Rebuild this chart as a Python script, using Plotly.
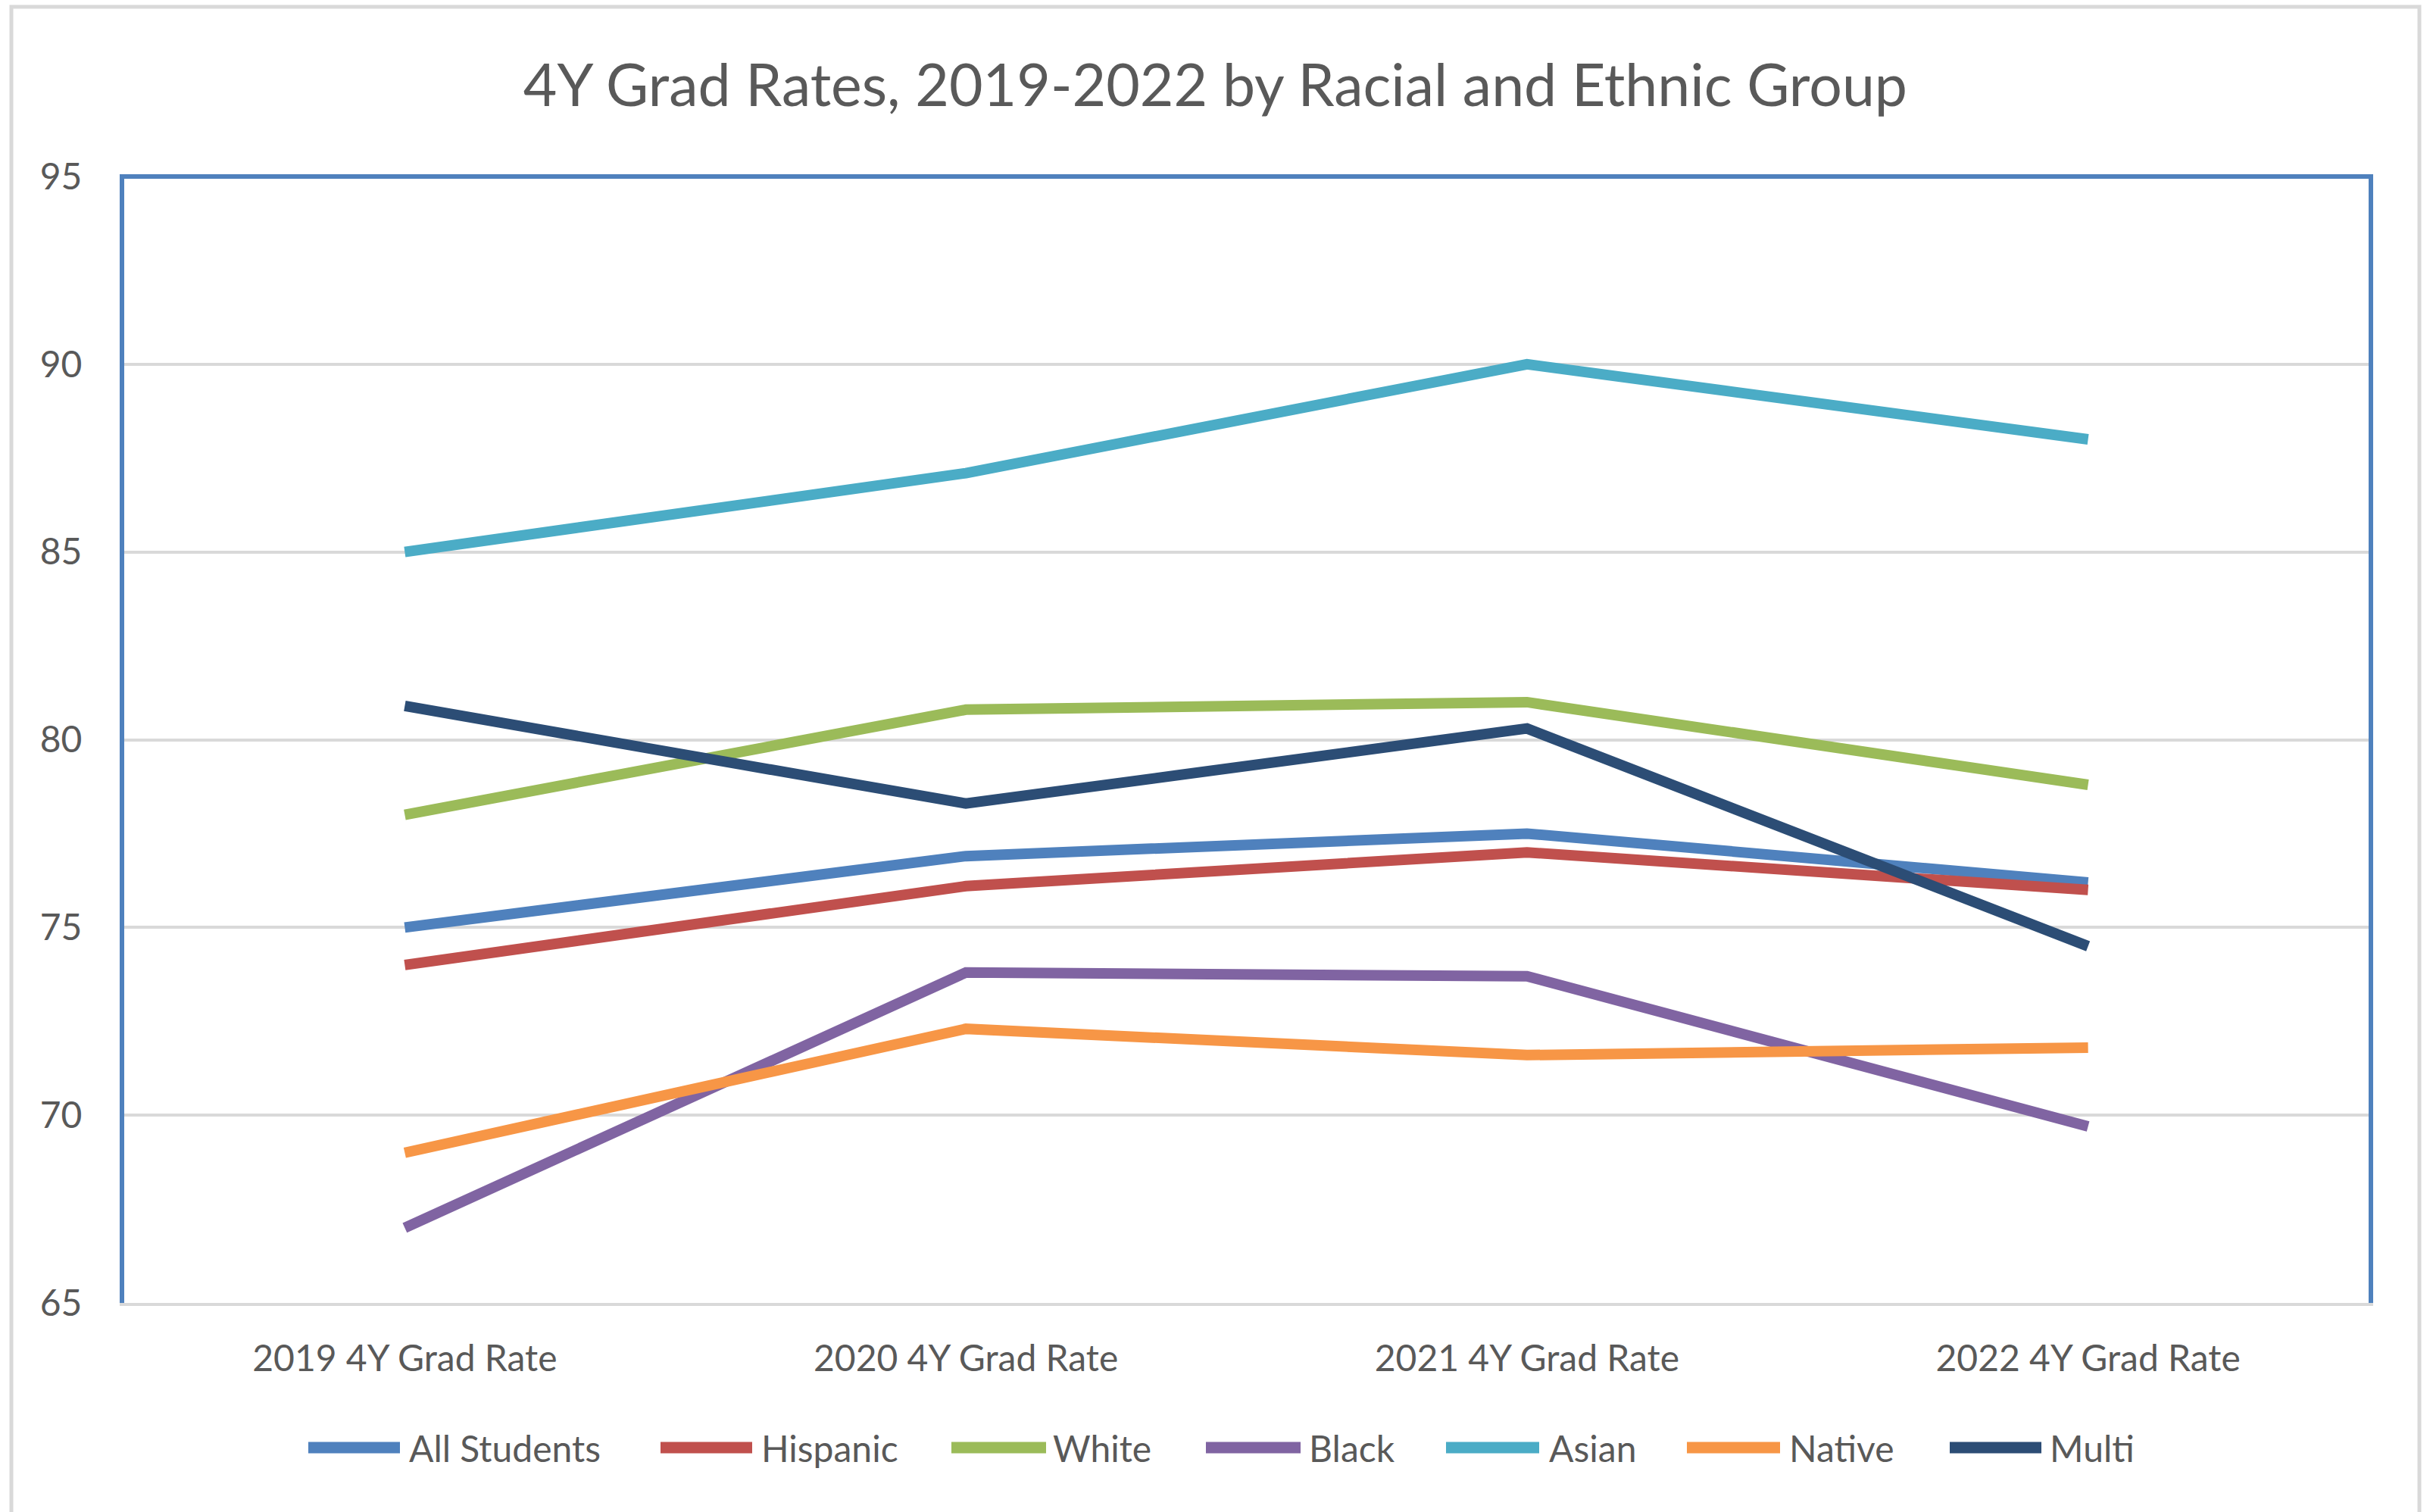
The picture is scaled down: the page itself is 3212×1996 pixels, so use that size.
import plotly.graph_objects as go

# ---------------- data ----------------
categories = ["2019 4Y Grad Rate", "2020 4Y Grad Rate", "2021 4Y Grad Rate", "2022 4Y Grad Rate"]
all_students = [75.0, 76.9, 77.5, 76.2]
hispanic = [74.0, 76.1, 77.0, 76.0]
white = [78.0, 80.8, 81.0, 78.8]
black = [67.0, 73.8, 73.7, 69.7]
asian = [85.0, 87.1, 90.0, 88.0]
native = [69.0, 72.3, 71.6, 71.8]
multi = [80.9, 78.3, 80.3, 74.5]
series_names = ["All Students", "Hispanic", "White", "Black", "Asian", "Native", "Multi"]
series_values = [all_students, hispanic, white, black, asian, native, multi]
y_ticks = [65, 70, 75, 80, 85, 90, 95]

# ---------------- style ----------------
colors = ["#4F81BD", "#C0504D", "#9BBB59", "#8064A2", "#4BACC6", "#F79646", "#2C4D75"]
W, H = 3212, 1996
L, R, T, B = 164, 85, 233, 276
PW, PH = W - L - R, H - T - B
FONT = "Lato"
TXT = "#595959"


def px_x(px):
    return (px - L) / PW


def px_y(py):
    return (H - B - py) / PH


fig = go.Figure()
for name, vals, col in zip(series_names, series_values, colors):
    fig.add_trace(go.Scatter(
        x=categories, y=vals, name=name, mode="lines",
        line=dict(color=col, width=14), showlegend=False,
    ))

# custom legend (long line samples like the original)
legend_line_px = [(403, 532), (868, 997), (1252, 1385), (1588, 1721),
                  (1905, 2036), (2223, 2354), (2570, 2699)]
legend_text_px = [538, 1003, 1388, 1726, 2043, 2360, 2704]
legend_y_px = 1911
shapes = []
annotations = []
for name, col, (x0, x1), tx in zip(series_names, colors, legend_line_px, legend_text_px):
    shapes.append(dict(type="line", xref="paper", yref="paper",
                       x0=px_x(x0 + 4), x1=px_x(x1 - 4), y0=px_y(legend_y_px), y1=px_y(legend_y_px),
                       line=dict(color=col, width=15)))
    annotations.append(dict(text=name, xref="paper", yref="paper", x=px_x(tx), y=px_y(legend_y_px),
                            xanchor="left", yanchor="middle", showarrow=False,
                            font=dict(family=FONT, size=48, color=TXT)))

# blue top border of the plot area
shapes.append(dict(type="line", xref="paper", yref="paper", x0=px_x(158), x1=px_x(3133),
                   y0=1, y1=1, line=dict(color="#4F81BD", width=6)))
# outer light-gray chart frame
shapes.append(dict(type="rect", xref="paper", yref="paper",
                   x0=px_x(15), x1=px_x(3194), y0=px_y(2030), y1=px_y(9),
                   line=dict(color="#D9D9D9", width=5), fillcolor="rgba(0,0,0,0)", layer="below"))

fig.update_layout(
    width=W, height=H,
    margin=dict(l=L, r=R, t=T, b=B, pad=0),
    paper_bgcolor="white", plot_bgcolor="white",
    title=dict(text="4Y Grad Rates, 2019-2022 by Racial and Ethnic Group",
               x=0.4995, xref="container", xanchor="center",
               y=1 - 113 / H, yref="container", yanchor="middle",
               font=dict(family=FONT, size=77, color=TXT)),
    shapes=shapes, annotations=annotations,
    showlegend=False,
    font=dict(family=FONT, color=TXT),
)
fig.update_xaxes(
    type="category", range=[-0.5, 3.5], showgrid=False, zeroline=False,
    showline=True, linecolor="#D9D9D9", linewidth=4, ticks="",
    tickfont=dict(family=FONT, size=48, color=TXT), ticklabelstandoff=28,
)
fig.update_yaxes(
    range=[65, 95], tickvals=y_ticks, showgrid=True, gridcolor="#D9D9D9", gridwidth=4,
    zeroline=False, showline=True, mirror=True, linecolor="#4F81BD", linewidth=6,
    ticks="", tickfont=dict(family=FONT, size=48, color=TXT), ticklabelstandoff=40,
)

fig.write_html("out.html")
